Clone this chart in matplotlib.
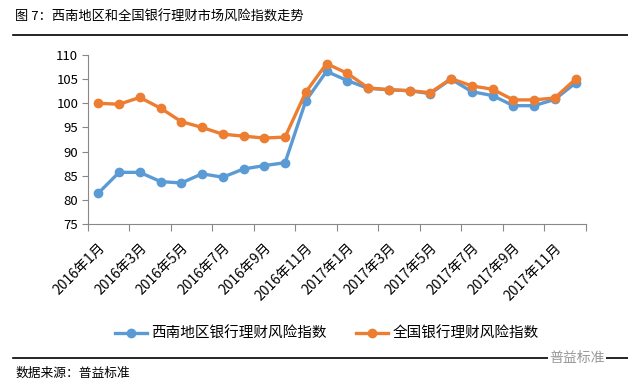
import matplotlib.pyplot as plt
from matplotlib.lines import Line2D

plt.rcParams["font.family"] = ["Noto Sans CJK SC", "DejaVu Sans"]

# Data
months = [f"2016年{m}月" for m in range(1, 13)] + [f"2017年{m}月" for m in range(1, 13)]
southwest = [81.4, 85.7, 85.7, 83.8, 83.5, 85.4, 84.7, 86.4, 87.1, 87.7, 100.5, 106.6,
             104.7, 103.1, 102.8, 102.6, 102.0, 105.0, 102.4, 101.6, 99.5, 99.5, 100.8, 104.2]
national = [100.0, 99.8, 101.2, 99.0, 96.2, 95.0, 93.6, 93.2, 92.8, 93.0, 102.3, 108.2,
            106.2, 103.2, 102.8, 102.6, 102.2, 105.1, 103.6, 102.9, 100.7, 100.7, 101.1, 105.0]
yticks = [75, 80, 85, 90, 95, 100, 105, 110]

blue = "#5B9BD5"
orange = "#ED7D31"

fig = plt.figure(figsize=(6.28, 3.87), dpi=100)
ax = fig.add_axes([0.140, 0.421, 0.793, 0.437])

x = list(range(len(months)))
ax.plot(x, southwest, color=blue, linewidth=2.4, marker="o", markersize=6)
ax.plot(x, national, color=orange, linewidth=2.4, marker="o", markersize=6)

ax.set_xlim(-0.5, len(months) - 0.5)
ax.set_ylim(75, 110)
ax.set_yticks(yticks)
ax.tick_params(axis="y", labelsize=9.5, length=4, color="#888888", pad=3)

# tick marks on category boundaries, labels on every 2nd category
ax.set_xticks([i - 0.5 for i in range(0, len(months) + 1, 2)])
ax.set_xticklabels([])
ax.tick_params(axis="x", which="major", length=5, color="#888888")
ax.set_xticks(x[::2], minor=True)
ax.set_xticklabels(months[::2], minor=True, rotation=45, ha="right",
                   rotation_mode="anchor", fontsize=10)
ax.tick_params(axis="x", which="minor", length=0, pad=12)

for side in ["top", "right"]:
    ax.spines[side].set_visible(False)
ax.spines["left"].set_color("#888888")
ax.spines["bottom"].set_color("#888888")

handles = [
    Line2D([0], [0], color=blue, linewidth=2.4, marker="o", markersize=6),
    Line2D([0], [0], color=orange, linewidth=2.4, marker="o", markersize=6),
]
fig.legend(handles, ["西南地区银行理财风险指数", "全国银行理财风险指数"],
           loc="center", bbox_to_anchor=(0.52, 0.138), ncol=2, frameon=False,
           fontsize=10.5, handlelength=2.2, columnspacing=2.0, handletextpad=0.3)

# title, rules and source
fig.text(0.024, 0.955, "图 7：西南地区和全国银行理财市场风险指数走势",
         fontsize=9.5, va="center", ha="left")
fig.add_artist(Line2D([0.02, 1.0], [0.909, 0.909], color="black", linewidth=1.2))
fig.add_artist(Line2D([0.02, 1.0], [0.075, 0.075], color="black", linewidth=1.2))
fig.text(0.024, 0.036, "数据来源：普益标准", fontsize=9.2, va="center", ha="left")
fig.text(0.875, 0.075, "普益标准", fontsize=10, va="center", ha="left", color="#999999",
         bbox=dict(facecolor="white", edgecolor="none", pad=1))

plt.savefig("out.png", dpi=100)
